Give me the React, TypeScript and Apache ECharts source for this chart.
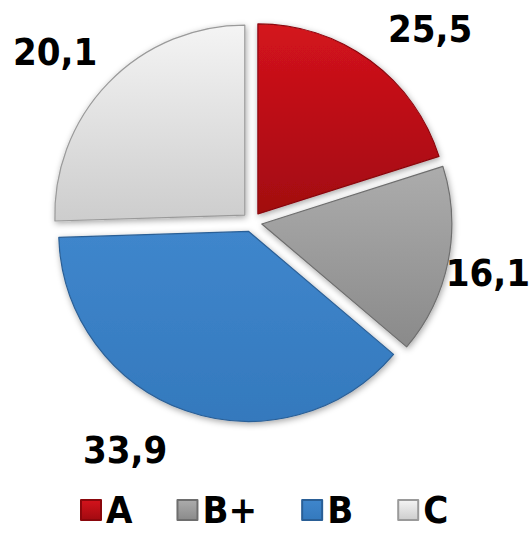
import React, { useEffect, useRef } from "react";
import * as echarts from "echarts";

// Categories and values (slice sizes)
const categories = ["A", "B+", "B", "C"];
const sliceValues = [20.1, 16.1, 38.3, 25.5];
// Value labels as printed on the chart
const valueLabels = ["25,5", "16,1", "33,9", "20,1"];

const FONT = "DejaVu Sans Condensed";

const gradients = [
  ["#d4131c", "#a20a10", "#8a070c"],
  ["#acacac", "#8a8a8a", "#6e6e6e"],
  ["#3f86cc", "#3479bd", "#2a5f96"],
  ["#f4f4f4", "#cdcdcd", "#9a9a9a"],
];

// label anchor: x, baseline y, alignment
const labelPos: [number, number, string][] = [
  [388, 43, "left"],
  [530, 287, "right"],
  [83, 464, "left"],
  [13, 66, "left"],
];

export default function App() {
  const ref = useRef<HTMLDivElement>(null);
  useEffect(() => {
    if (!ref.current) return;
    const chart = echarts.init(ref.current, null, { renderer: "svg" });
    const data = categories.map((name, i) => ({
      name,
      value: sliceValues[i],
      selected: true,
      itemStyle: {
        color: new echarts.graphic.LinearGradient(0, 0, 0, 1, [
          { offset: 0, color: gradients[i][0] },
          { offset: 1, color: gradients[i][1] },
        ]),
        borderColor: gradients[i][2],
        borderWidth: 1.2,
      },
    }));
    const fs = 38;
    chart.setOption({
      animation: false,
      legend: {
        bottom: 1,
        left: 75,
        itemWidth: 20,
        itemHeight: 20,
        itemGap: 44,
        icon: "rect",
        selectedMode: false,
        textStyle: { fontFamily: FONT, fontSize: 38, fontWeight: "bold", color: "#000" },
        data: categories,
      },
      graphic: valueLabels.map((t, i) => ({
        type: "text",
        x: labelPos[i][0],
        y: labelPos[i][1] - fs * 0.365,
        silent: true,
        style: {
          text: t,
          fontFamily: FONT,
          fontWeight: "bold",
          fontSize: fs,
          fill: "#000",
          textAlign: labelPos[i][2],
          textVerticalAlign: "middle",
        },
      })),
      series: [
        {
          type: "pie",
          center: [252, 222],
          radius: 190,
          startAngle: 90,
          clockwise: true,
          selectedMode: "multiple",
          selectedOffset: 10,
          emphasis: { disabled: true },
          itemStyle: {
            shadowBlur: 6,
            shadowColor: "rgba(0,0,0,0.35)",
            shadowOffsetX: 1,
            shadowOffsetY: 2,
          },
          label: { show: false },
          labelLine: { show: false },
          data,
        },
      ],
    });
    return () => chart.dispose();
  }, []);
  return (
    <div
      ref={ref}
      style={{ position: "absolute", left: 0, top: 0, width: 531, height: 535 }}
    />
  );
}
